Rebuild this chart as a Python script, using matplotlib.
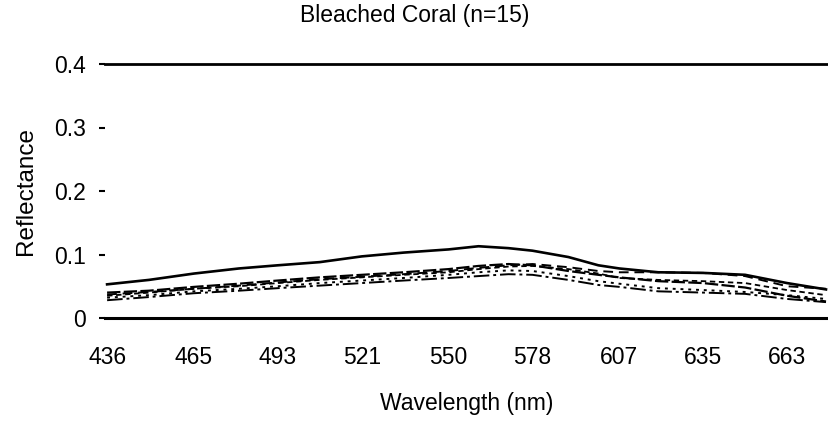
import matplotlib
matplotlib.use("Agg")
import matplotlib.pyplot as plt

plt.rcParams['font.family'] = ['Liberation Sans', 'DejaVu Sans']

# Reflectance spectra of bleached coral (the visibly separate curves)
wavelength = [436, 450, 465, 480, 493, 507, 521, 535, 550, 560,
              570, 578, 590, 600, 607, 620, 635, 649, 663, 676]

refl_a = [0.053, 0.060, 0.070, 0.078, 0.083, 0.088, 0.097, 0.103, 0.108, 0.113,
          0.110, 0.106, 0.096, 0.083, 0.078, 0.072, 0.071, 0.068, 0.055, 0.045]
refl_b = [0.040, 0.043, 0.049, 0.054, 0.059, 0.064, 0.068, 0.072, 0.077, 0.082,
          0.085, 0.083, 0.074, 0.068, 0.064, 0.058, 0.055, 0.048, 0.035, 0.026]
refl_c = [0.037, 0.041, 0.046, 0.051, 0.056, 0.061, 0.065, 0.069, 0.074, 0.079,
          0.083, 0.085, 0.080, 0.074, 0.072, 0.072, 0.071, 0.066, 0.050, 0.046]
refl_d = [0.028, 0.033, 0.039, 0.043, 0.047, 0.051, 0.055, 0.059, 0.063, 0.066,
          0.069, 0.068, 0.060, 0.052, 0.049, 0.042, 0.040, 0.038, 0.030, 0.025]
refl_e = [0.032, 0.036, 0.042, 0.046, 0.050, 0.055, 0.059, 0.063, 0.068, 0.072,
          0.075, 0.074, 0.066, 0.058, 0.054, 0.047, 0.044, 0.041, 0.036, 0.030]
refl_f = [0.035, 0.040, 0.046, 0.050, 0.055, 0.060, 0.064, 0.068, 0.072, 0.077,
          0.081, 0.082, 0.077, 0.070, 0.063, 0.060, 0.058, 0.055, 0.044, 0.036]

tick_wl = [436, 465, 493, 521, 550, 578, 607, 635, 663]
y_ticks = [0, 0.1, 0.2, 0.3, 0.4]
y_labels = ["0", "0.1", "0.2", "0.3", "0.4"]

fig = plt.figure(figsize=(8.29, 4.21), dpi=100)
ax = fig.add_axes([105 / 829, 1 - 318 / 421, 1 - 105 / 829, (318 - 64) / 421])

styles = [
    (refl_a, "-", 1.9),
    (refl_b, (0, (6, 1.5)), 1.6),
    (refl_c, (0, (5, 3)), 1.4),
    (refl_d, (0, (8, 2, 1.5, 2)), 1.4),
    (refl_e, (0, (1.5, 2.5)), 1.4),
    (refl_f, (0, (3, 2)), 1.3),
]
for vals, ls, lw in styles:
    ax.plot(wavelength, vals, color="black", linestyle=ls, linewidth=lw)

ax.set_xlim(435.3, 677)
ax.set_ylim(0, 0.4)
ax.axhline(0.4, color="black", linewidth=2, clip_on=False)

for side in ["top", "right", "left"]:
    ax.spines[side].set_visible(False)
ax.spines["bottom"].set_linewidth(2.2)

ax.set_xticks(tick_wl)
ax.set_xticklabels([str(w) for w in tick_wl])
ax.set_yticks(y_ticks)
ax.set_yticklabels(y_labels)
ax.tick_params(axis="x", length=0, pad=20, labelsize=16.5)
ax.tick_params(axis="y", length=4, width=1.5, pad=10, labelsize=16.5)

ax.set_xlabel("Wavelength (nm)", fontsize=16.5, labelpad=17)
ax.set_ylabel("Reflectance", fontsize=17.5, labelpad=12)
fig.suptitle("Bleached Coral (n=15)", fontsize=16.5, x=0.5, y=0.99)

fig.savefig("out.png", dpi=100)
